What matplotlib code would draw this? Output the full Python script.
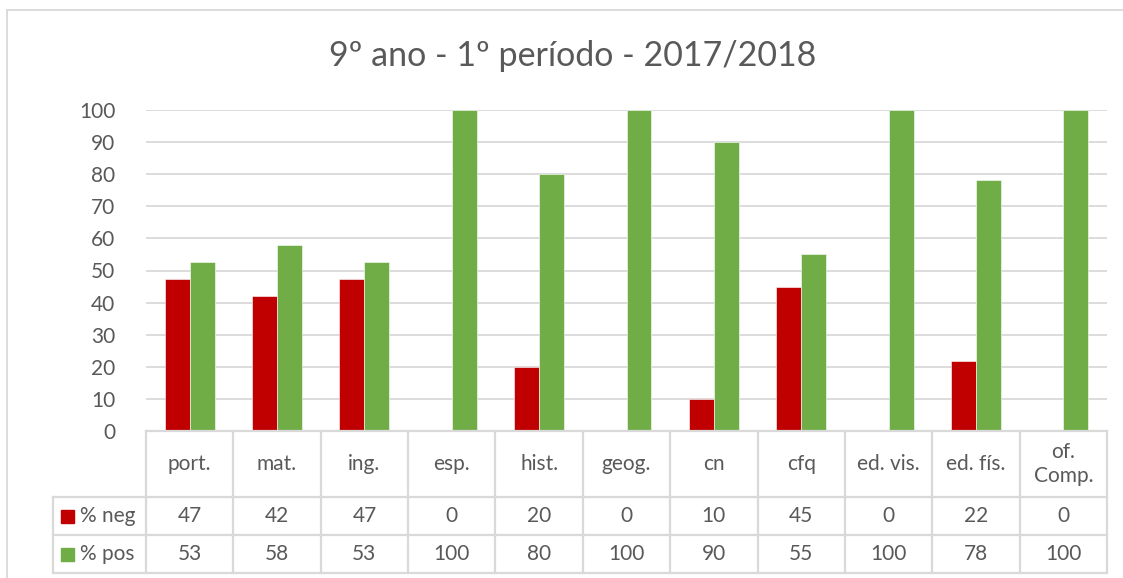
import matplotlib
matplotlib.use('Agg')
import matplotlib.pyplot as plt
from matplotlib.lines import Line2D
from matplotlib.patches import Rectangle
import numpy as np

# data
disciplinas = ['port.', 'mat.', 'ing.', 'esp.', 'hist.', 'geog.', 'cn', 'cfq',
               'ed. vis.', 'ed. fís.', 'of.\nComp.']
neg = [47.4, 42.1, 47.4, 0, 20, 0, 10, 45, 0, 21.7, 0]
pos = [52.6, 57.9, 52.6, 100, 80, 100, 90, 55, 100, 78.3, 100]
series_names = ['% neg', '% pos']
yticks = [0, 10, 20, 30, 40, 50, 60, 70, 80, 90, 100]

RED = '#c00000'
GREEN = '#70ad47'
GRID = '#d9d9d9'
TXT = '#595959'
plt.rcParams['font.family'] = ['Lato', 'DejaVu Sans']

W, H = 1123, 578
fig = plt.figure(figsize=(W / 100, H / 100), dpi=100)

def fx(px):
    return px / W

def fy(py):
    return 1 - py / H

# plot area in pixels
x0, x1 = 146, 1107
ytop, ybot = 110, 431
ax = fig.add_axes([fx(x0), fy(ybot), fx(x1) - fx(x0), fy(ytop) - fy(ybot)])
n = len(disciplinas)
idx = np.arange(n)
bw = 0.286
ax.bar(idx - bw / 2, neg, bw, color=RED, edgecolor='white', linewidth=0.4, zorder=3)
ax.bar(idx + bw / 2, pos, bw, color=GREEN, edgecolor='white', linewidth=0.4, zorder=3)
ax.set_xlim(-0.5, n - 0.5)
ax.set_ylim(0, 100)
ax.set_yticks(yticks)
ax.yaxis.grid(True, color=GRID, linewidth=1.3, zorder=0)
ax.set_axisbelow(True)
ax.tick_params(axis='y', length=0, pad=22, labelsize=15, labelcolor=TXT)
ax.tick_params(axis='x', length=0, labelbottom=False)
for s in ax.spines.values():
    s.set_visible(False)

# outer chart border
fig.add_artist(Line2D([fx(7), fx(7)], [fy(10), fy(H + 5)], color=GRID, lw=1.3))
fig.add_artist(Line2D([fx(7), fx(W + 5)], [fy(10), fy(10)], color=GRID, lw=1.3))

fig.text(0.51, fy(56), '9º ano - 1º período - 2017/2018', ha='center', va='center',
         fontsize=24.5, color=TXT)

# data table
cw = (x1 - x0) / n
rows = [431, 497, 535, 573]
lx = 53
lw = 1.6
fig.add_artist(Line2D([fx(x0), fx(x1)], [fy(rows[0]), fy(rows[0])], color=GRID, lw=lw))
for r in rows[1:]:
    fig.add_artist(Line2D([fx(lx), fx(x1)], [fy(r), fy(r)], color=GRID, lw=lw))
for i in range(n + 1):
    xx = x0 + i * cw
    fig.add_artist(Line2D([fx(xx), fx(xx)], [fy(rows[0]), fy(rows[3])], color=GRID, lw=lw))
fig.add_artist(Line2D([fx(lx), fx(lx)], [fy(rows[1]), fy(rows[3])], color=GRID, lw=lw))

for i, name in enumerate(disciplinas):
    cx = x0 + (i + 0.5) * cw
    fig.text(fx(cx), fy((rows[0] + rows[1]) / 2), name, ha='center', va='center',
             fontsize=15, color=TXT, linespacing=1.3)
    fig.text(fx(cx), fy((rows[1] + rows[2]) / 2), str(int(round(neg[i]))),
             ha='center', va='center', fontsize=15, color=TXT)
    fig.text(fx(cx), fy((rows[2] + rows[3]) / 2), str(int(round(pos[i]))),
             ha='center', va='center', fontsize=15, color=TXT)

for k, (name, col) in enumerate(zip(series_names, [RED, GREEN])):
    cy = (rows[k + 1] + rows[k + 2]) / 2
    fig.add_artist(Rectangle((fx(61), fy(cy + 7)), fx(13), fy(cy - 6) - fy(cy + 7),
                             color=col, transform=fig.transFigure))
    fig.text(fx(80), fy(cy), name, ha='left', va='center', fontsize=15, color=TXT)

fig.savefig('out.png', dpi=100)
